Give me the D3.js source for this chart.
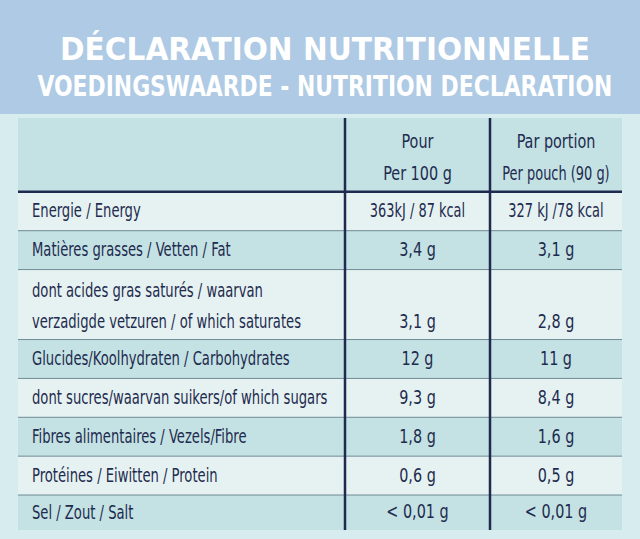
<!DOCTYPE html><html><head><meta charset="utf-8"><script src="https://cdn.jsdelivr.net/npm/d3@7"></script>
<style>body{margin:0;background:#dbeef0}</style></head><body><svg id="c" width="640" height="539"></svg><script>
const title="DÉCLARATION NUTRITIONNELLE";
const subtitle="VOEDINGSWAARDE - NUTRITION DECLARATION";
const headers=[["Pour","Per 100 g"],["Par portion","Per pouch (90 g)"]];
const labels=[["Energie / Energy"],["Matières grasses / Vetten / Fat"],["dont acides gras saturés / waarvan","verzadigde vetzuren / of which saturates"],["Glucides/Koolhydraten / Carbohydrates"],["dont sucres/waarvan suikers/of which sugars"],["Fibres alimentaires / Vezels/Fibre"],["Protéines / Eiwitten / Protein"],["Sel / Zout / Salt"]];
const per100=["363kJ / 87 kcal","3,4 g","3,1 g","12 g","9,3 g","1,8 g","0,6 g","< 0,01 g"];
const perPortion=["327 kJ /78 kcal","3,1 g","2,8 g","11 g","8,4 g","1,6 g","0,5 g","< 0,01 g"];
const rowUnits=[1.9,1,1,1.8,1,1,1,1,0.9];
const svg=d3.select("#c");
const F="'DejaVu Sans Condensed','DejaVu Sans',sans-serif", ink="#1e2b4f";
svg.append("rect").attr("width",640).attr("height",539).attr("fill","#d7ecee");
svg.append("rect").attr("x",0).attr("y",0).attr("width",640).attr("height",114).attr("fill","#aecae4");
const fit=(s,yy,size,w)=>{const t=svg.append("text").attr("x",0).attr("y",yy).attr("fill","#fff").attr("font-family",F).attr("font-weight","bold").attr("font-size",size).text(s);
  const bw=t.node().getComputedTextLength(),k=w/bw;t.attr("transform",`translate(${325-w/2},0) scale(${k},1)`);};
fit(title,60,32,530);
fit(subtitle,96,28,575);
const cum=[0];rowUnits.forEach(u=>cum.push(cum[cum.length-1]+u));
const y=d3.scaleLinear().domain([0,cum[cum.length-1]]).range([118,530]);
const x=d3.scaleOrdinal().domain(["l","a","b","e"]).range([18,345,490,622]);
const g=svg.append("g");
rowUnits.forEach((u,i)=>{
  g.append("rect").attr("x",x("l")).attr("y",y(cum[i])).attr("width",x("e")-x("l")).attr("height",y(cum[i+1])-y(cum[i])).attr("fill",i%2==0?"#c4e2e3":"#e6f2f1");
  if(i>0) g.append("line").attr("x1",x("l")).attr("x2",x("e")).attr("y1",y(cum[i])).attr("y2",y(cum[i])).attr("stroke","#6f8a95").attr("stroke-width",1);
});
g.append("line").attr("x1",x("l")).attr("x2",x("e")).attr("y1",y(cum[1])).attr("y2",y(cum[1])).attr("stroke",ink).attr("stroke-width",2.5);
["a","b"].forEach(k=>g.append("line").attr("x1",x(k)).attr("x2",x(k)).attr("y1",118).attr("y2",530).attr("stroke",ink).attr("stroke-width",2.5));
const T=(xx,yy,s,anchor,size,sx)=>g.append("text").attr("x",xx).attr("y",yy).attr("text-anchor",anchor).attr("fill",ink).attr("font-family",F).attr("font-size",size).attr("transform",`translate(${xx},0) scale(${sx},1) translate(${-xx},0)`).text(s);
headers.forEach((h,j)=>{const cx=j==0?(x("a")+x("b"))/2:(x("b")+x("e"))/2;
  T(cx,y(0)+30,h[0],"middle",20,0.8);T(cx,y(0)+62,h[1],"middle",20,j==1?0.72:0.8);});
labels.forEach((ls,i)=>{const r=i+1,top=y(cum[r]),bot=y(cum[r+1]),mid=(top+bot)/2;
  if(ls.length==1) T(32,mid+6,ls[0],"start",19,0.77);
  else{T(32,top+27,ls[0],"start",19,0.77);T(32,bot-12,ls[1],"start",19,0.77);}
  const vy=ls.length==1?mid+6:bot-12;
  T((x("a")+x("b"))/2,vy,per100[i],"middle",20,i==0?0.72:0.8);
  T((x("b")+x("e"))/2,vy,perPortion[i],"middle",20,i==0?0.72:0.8);
});
</script></body></html>
